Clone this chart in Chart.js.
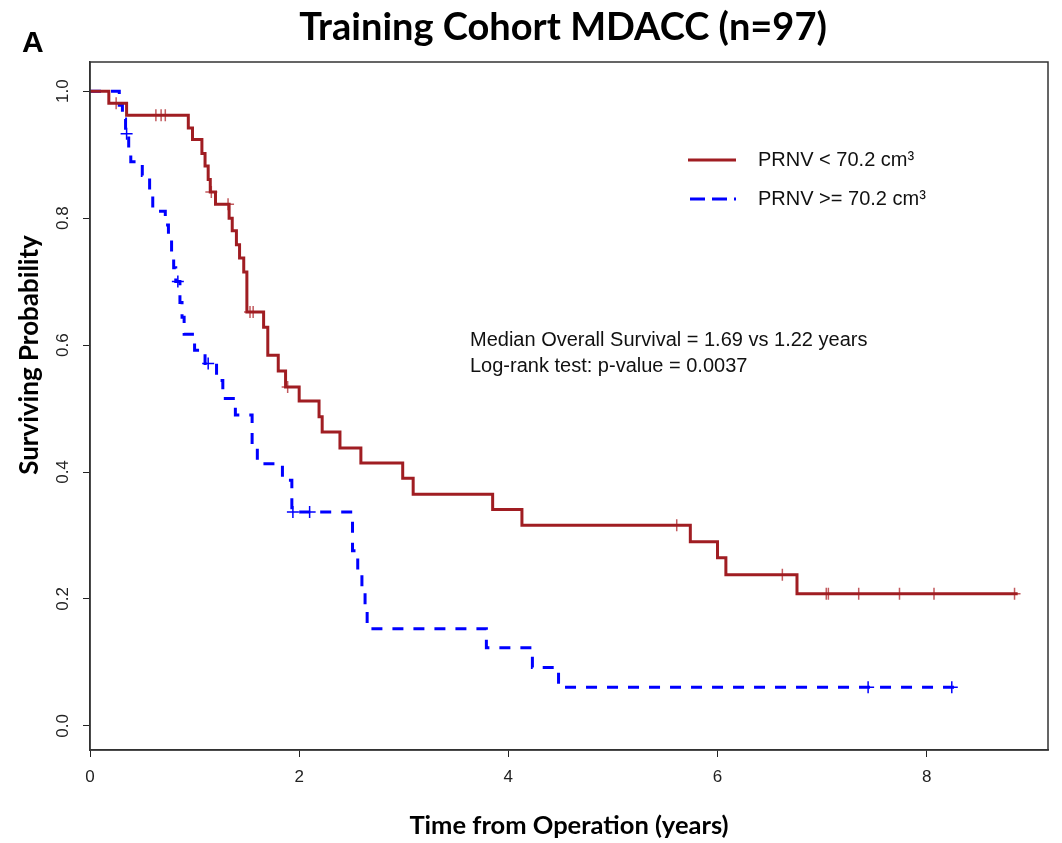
<!DOCTYPE html>
<html>
<head>
<meta charset="utf-8">
<script src="https://cdn.jsdelivr.net/npm/chart.js@4.4.1/dist/chart.umd.min.js"></script>
<style>
	html, body { margin: 0; padding: 0; background: #fff; }
	#km { display: block; }
</style>
</head>
<body>
<canvas id="km" width="1062" height="843"></canvas>
<script>
"use strict"

// Kaplan-Meier steps, PRNV < 70.2 cm3 (red)
const redTimes = [0, 0.18, 0.35, 0.94, 0.98, 1.07, 1.10, 1.13, 1.15, 1.20, 1.33, 1.36, 1.40, 1.43, 1.47, 1.50, 1.66, 1.70, 1.80, 1.87, 2.00, 2.19, 2.22, 2.39, 2.59, 2.99, 3.09, 3.85, 4.13, 5.74, 6.00, 6.08, 6.76, 8.87];
const redSurv = [1.0, 0.981, 0.962, 0.942, 0.924, 0.902, 0.882, 0.861, 0.841, 0.822, 0.800, 0.780, 0.758, 0.737, 0.715, 0.652, 0.628, 0.584, 0.559, 0.534, 0.512, 0.487, 0.463, 0.438, 0.414, 0.390, 0.365, 0.341, 0.316, 0.290, 0.265, 0.238, 0.208, 0.208];
const redCensor = [0.25, 0.63, 0.68, 0.72, 1.16, 1.32, 1.53, 1.56, 1.89, 5.61, 6.62, 7.04, 7.06, 7.35, 7.74, 8.07, 8.84];

// PRNV >= 70.2 cm3 (blue, dashed)
const blueTimes = [0, 0.28, 0.31, 0.34, 0.37, 0.39, 0.50, 0.57, 0.60, 0.72, 0.75, 0.78, 0.80, 0.82, 0.86, 0.88, 0.90, 1.00, 1.10, 1.21, 1.27, 1.39, 1.55, 1.60, 1.84, 1.93, 2.51, 2.56, 2.60, 2.63, 2.65, 3.79, 4.23, 4.48, 8.27];
const blueSurv = [1.0, 0.978, 0.956, 0.933, 0.911, 0.889, 0.867, 0.844, 0.811, 0.789, 0.767, 0.744, 0.722, 0.700, 0.667, 0.644, 0.617, 0.592, 0.571, 0.544, 0.516, 0.490, 0.438, 0.413, 0.387, 0.337, 0.276, 0.245, 0.215, 0.184, 0.153, 0.123, 0.092, 0.061, 0.061];
const blueCensor = [0.35, 0.84, 1.13, 1.94, 2.10, 7.44, 8.24];

const xTicks = [0, 2, 4, 6, 8];
const yTicks = [0.0, 0.2, 0.4, 0.6, 0.8, 1.0];
const seriesLabels = ['PRNV < 70.2 cm³', 'PRNV >= 70.2 cm³'];
const noteLines = ['Median Overall Survival = 1.69 vs 1.22 years', 'Log-rank test: p-value = 0.0037'];

const RED = '#a01d22';
const BLUE = '#0000ff';
const TICK_FONT = '17px "Liberation Sans Narrow", "Liberation Sans", Arial, sans-serif';

// value of the step function at time t
function survAt(times, surv, t) {
	let s = surv[0];
	for (let i = 0; i < times.length; i++) {
		if (times[i] <= t) s = surv[i];
	}
	return s;
}

const toPoints = (times, surv) => times.map((t, i) => ({ x: t, y: surv[i] }));
const censorPoints = (cens, times, surv) => cens.map(t => ({ x: t, y: survAt(times, surv, t) }));

const decor = {
	id: 'decor',
	beforeDraw(chart) {
		const ctx = chart.ctx;
		ctx.save();
		ctx.fillStyle = '#fff';
		ctx.fillRect(0, 0, chart.width, chart.height);
		ctx.restore();
	},
	afterDraw(chart) {
		const { ctx, chartArea: a, scales } = chart;
		ctx.save();

		// box round the plot
		ctx.strokeStyle = '#333';
		ctx.lineWidth = 1.5;
		ctx.strokeRect(a.left, a.top, a.right - a.left, a.bottom - a.top);

		// main title
		ctx.fillStyle = '#000';
		ctx.textAlign = 'center';
		ctx.textBaseline = 'middle';
		ctx.font = 'bold 38px Lato, "Open Sans", sans-serif';
		ctx.fillText('Training Cohort MDACC (n=97)', 563, 28);

		// y title
		ctx.save();
		ctx.translate(30, 355);
		ctx.rotate(-Math.PI / 2);
		ctx.font = 'bold 26px Lato, "Open Sans", sans-serif';
		ctx.fillText('Surviving Probability', 0, 0);
		ctx.restore();

		// y tick labels, turned like R does
		ctx.fillStyle = '#222';
		ctx.font = TICK_FONT;
		yTicks.forEach(v => {
			const y = scales.y.getPixelForValue(v);
			ctx.save();
			ctx.translate(63, y);
			ctx.rotate(-Math.PI / 2);
			ctx.fillText(v.toFixed(1), 0, 0);
			ctx.restore();
		});

		// legend
		ctx.lineWidth = 3;
		ctx.strokeStyle = RED;
		ctx.beginPath();
		ctx.moveTo(688, 160);
		ctx.lineTo(736, 160);
		ctx.stroke();
		ctx.strokeStyle = BLUE;
		ctx.setLineDash([15, 7]);
		ctx.beginPath();
		ctx.moveTo(690, 199);
		ctx.lineTo(736, 199);
		ctx.stroke();
		ctx.setLineDash([]);
		ctx.fillStyle = '#111';
		ctx.textAlign = 'left';
		ctx.font = '20px "Liberation Sans", Arial, sans-serif';
		ctx.fillText(seriesLabels[0], 758, 160);
		ctx.fillText(seriesLabels[1], 758, 199);

		// median / log-rank note
		ctx.font = '20px "Liberation Sans", Arial, sans-serif';
		ctx.fillText(noteLines[0], 470, 340);
		ctx.fillText(noteLines[1], 470, 366);

		// panel letter
		ctx.font = 'bold 30px "Liberation Sans", Arial, sans-serif';
		ctx.fillStyle = '#000';
		ctx.fillText('A', 22, 44);

		ctx.restore();
	}
};

new Chart(document.getElementById('km'), {
	type: 'line',
	data: {
		datasets: [
			{
				label: seriesLabels[0],
				data: toPoints(redTimes, redSurv),
				borderColor: RED,
				borderWidth: 3,
				stepped: true,
				pointRadius: 0,
				fill: false
			},
			{
				label: seriesLabels[1],
				data: toPoints(blueTimes, blueSurv),
				borderColor: BLUE,
				borderWidth: 3,
				borderDash: [11, 10],
				stepped: true,
				pointRadius: 0,
				fill: false
			},
			{
				label: 'censored <',
				data: censorPoints(redCensor, redTimes, redSurv),
				showLine: false,
				pointStyle: 'cross',
				pointRadius: 6,
				borderColor: '#c25a5e',
				borderWidth: 1.5
			},
			{
				label: 'censored >=',
				data: censorPoints(blueCensor, blueTimes, blueSurv),
				showLine: false,
				pointStyle: 'cross',
				pointRadius: 6,
				borderColor: BLUE,
				borderWidth: 1.5
			}
		]
	},
	options: {
		responsive: false,
		animation: false,
		devicePixelRatio: 1,
		layout: { padding: { left: 0, right: 14, top: 62, bottom: 0 } },
		plugins: {
			legend: { display: false },
			tooltip: { enabled: false },
			title: { display: false }
		},
		scales: {
			x: {
				type: 'linear',
				min: 0,
				max: 9.16,
				afterBuildTicks: s => { s.ticks = xTicks.map(v => ({ value: v })); },
				afterFit: s => { s.height = 93; },
				grid: { drawOnChartArea: false, drawTicks: true, tickLength: 7, color: '#222' },
				border: { display: true, color: '#333', width: 1.5 },
				ticks: {
					color: '#222',
					padding: 10,
					maxRotation: 0,
					font: { family: '"Liberation Sans Narrow", "Liberation Sans", Arial, sans-serif', size: 17 }
				},
				title: {
					display: true,
					text: 'Time from Operation (years)',
					color: '#000',
					font: { family: 'Lato, "Open Sans", sans-serif', size: 25.5, weight: 'bold', lineHeight: 1.2 },
					padding: { top: 0, bottom: 2 }
				}
			},
			y: {
				type: 'linear',
				min: -0.038,
				max: 1.046,
				afterBuildTicks: s => { s.ticks = yTicks.map(v => ({ value: v })); },
				afterFit: s => { s.width = 90; },
				grid: { drawOnChartArea: false, drawTicks: true, tickLength: 7, color: '#222' },
				border: { display: true, color: '#333', width: 1.5 },
				ticks: { display: false },
				title: { display: false }
			}
		}
	},
	plugins: [decor]
});
</script>
</body>
</html>
